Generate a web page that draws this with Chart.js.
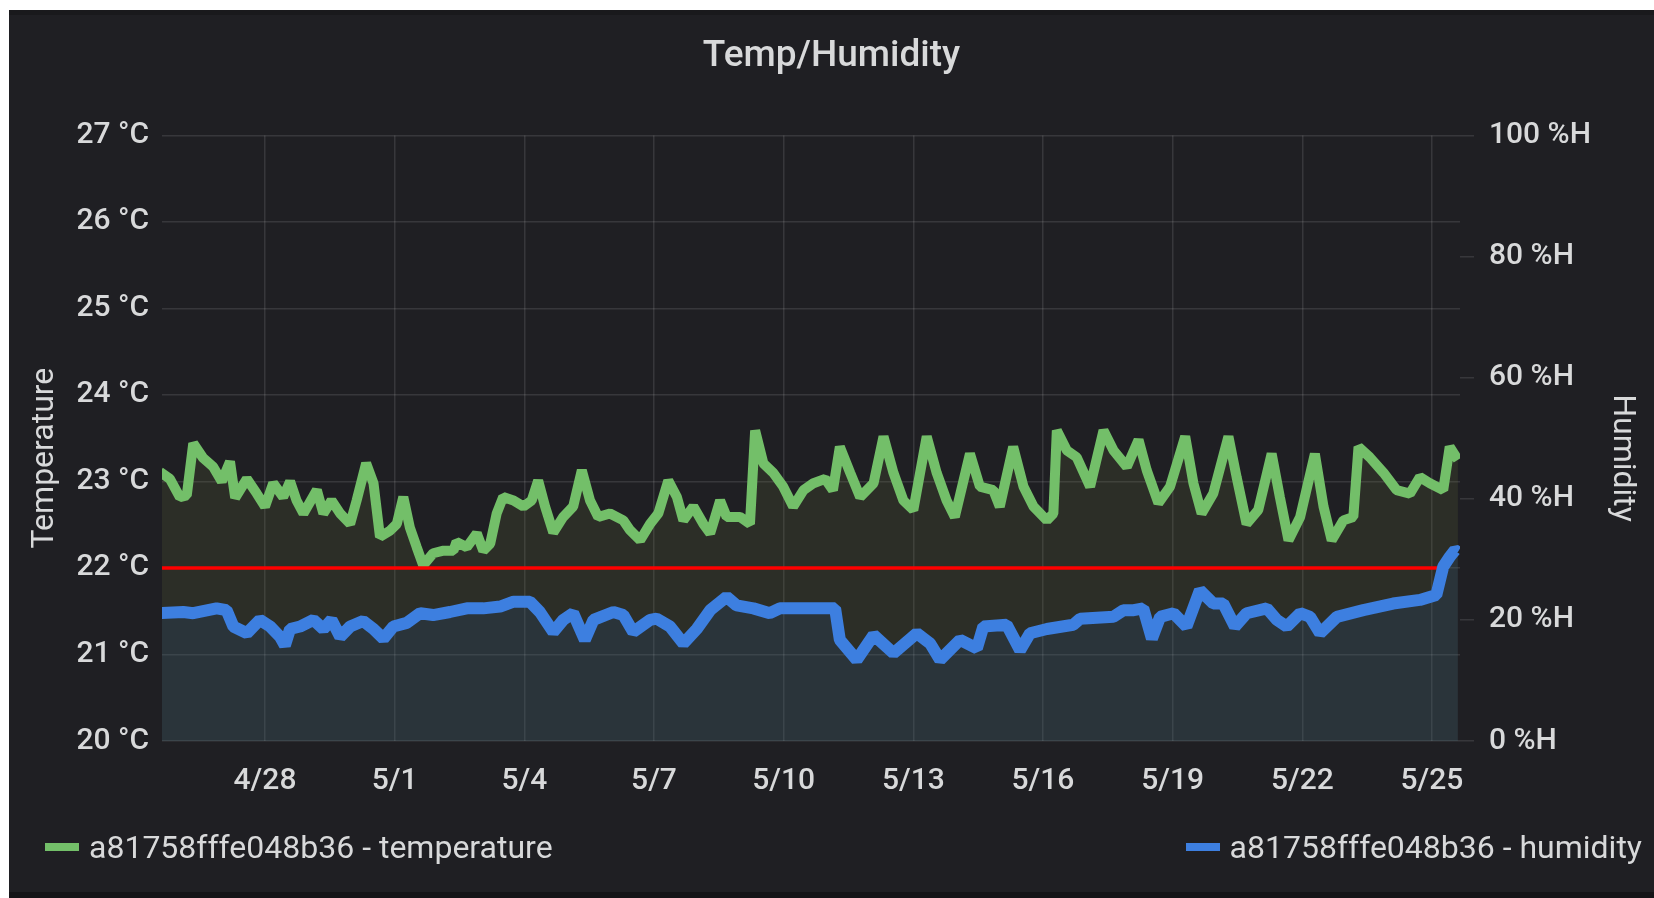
<!DOCTYPE html>
<html>
<head>
<meta charset="utf-8">
<script src="https://cdn.jsdelivr.net/npm/chart.js@4.4.0/dist/chart.umd.min.js"></script>
<style>
  body { margin: 0; background: #fff; font-family: Roboto, sans-serif; }
  #panel { position: absolute; left: 9px; top: 10px; width: 1645px; height: 888px; box-sizing: border-box;
           background: #1f1f23; border-top: 5px solid #19191c; border-bottom: 6px solid #141417; }
  #wrap { position: relative; width: 1645px; height: 877px; }
  #legend { position: absolute; left: 36px; right: 12px; top: 812px; height: 40px; display: flex;
            justify-content: space-between; align-items: center; color: #d8d9da; font-size: 32px; }
  .item { display: flex; align-items: center; white-space: nowrap; }
  .swatch { width: 34px; height: 8px; margin-right: 10px; }
</style>
</head>
<body>
<div id="panel">
  <div id="wrap"><canvas id="c"></canvas></div>
  <div id="legend"></div>
</div>
<script>
// x values are days counted from 4/28 00:00
const tickDays = [0, 3, 6, 9, 12, 15, 18, 21, 24, 27];
const tickLabels = ['4/28', '5/1', '5/4', '5/7', '5/10', '5/13', '5/16', '5/19', '5/22', '5/25'];

const tempDays = [-2.43, -2.20, -1.97, -1.81, -1.66, -1.43, -1.20, -1.00, -0.81, -0.69, -0.42, -0.19,
  0.00, 0.19, 0.42, 0.58, 0.73, 0.89, 1.20, 1.35, 1.54, 1.74, 1.97, 2.12, 2.34, 2.51, 2.66, 2.89,
  3.05, 3.20, 3.35, 3.51, 3.66, 3.89, 4.13, 4.36, 4.43, 4.67, 4.90, 5.05, 5.21, 5.36, 5.51, 5.75,
  5.98, 6.17, 6.32, 6.48, 6.67, 6.90, 7.13, 7.33, 7.52, 7.71, 7.98, 8.29, 8.44, 8.68, 8.91, 9.10,
  9.33, 9.53, 9.68, 9.91, 10.14, 10.30, 10.53, 10.68, 10.99, 11.22, 11.34, 11.53, 11.76, 11.99,
  12.22, 12.46, 12.69, 12.96, 13.14, 13.30, 13.54, 13.77, 14.08, 14.31, 14.54, 14.77, 15.00, 15.31,
  15.54, 15.77, 15.96, 16.31, 16.54, 16.85, 17.00, 17.31, 17.55, 17.78, 18.09, 18.24, 18.32, 18.55,
  18.78, 19.09, 19.40, 19.63, 19.94, 20.21, 20.40, 20.67, 20.94, 21.29, 21.48, 21.67, 21.94, 22.29,
  22.48, 22.71, 22.98, 23.29, 23.48, 23.68, 23.95, 24.29, 24.49, 24.68, 24.95, 25.18, 25.30, 25.56,
  25.88, 26.18, 26.49, 26.72, 26.95, 27.26, 27.41, 27.60];
const tempValues = [23.11, 23.03, 22.82, 22.84, 23.44, 23.27, 23.17, 23.00, 23.23, 22.81, 23.03, 22.86,
  22.71, 22.98, 22.82, 23.00, 22.78, 22.63, 22.90, 22.63, 22.78, 22.63, 22.51, 22.78, 23.21, 22.98, 22.36, 22.43,
  22.51, 22.82, 22.47, 22.24, 22.03, 22.17, 22.20, 22.20, 22.30, 22.24, 22.40, 22.20, 22.28, 22.63, 22.82, 22.78,
  22.71, 22.78, 23.01, 22.71, 22.41, 22.59, 22.71, 23.13, 22.78, 22.59, 22.63, 22.55, 22.44, 22.32, 22.51, 22.63,
  23.01, 22.82, 22.55, 22.71, 22.51, 22.40, 22.78, 22.59, 22.59, 22.51, 23.59, 23.21, 23.10, 22.94,
  22.71, 22.90, 22.98, 23.03, 22.90, 23.40, 23.10, 22.82, 22.98, 23.52, 23.10, 22.78, 22.67, 23.52,
  23.10, 22.78, 22.59, 23.32, 22.94, 22.90, 22.71, 23.40, 22.94, 22.71, 22.55, 22.63, 23.59, 23.36,
  23.28, 22.94, 23.59, 23.36, 23.17, 23.48, 23.13, 22.75, 22.94, 23.52, 22.98, 22.63, 22.86, 23.52,
  23.05, 22.51, 22.67, 23.32, 22.82, 22.32, 22.59, 23.32, 22.71, 22.32, 22.55, 22.59, 23.40, 23.28,
  23.10, 22.90, 22.86, 23.05, 22.98, 22.90, 23.40, 23.25];

const humDays = [-2.43, -1.89, -1.66, -1.12, -0.89, -0.73, -0.42, -0.12, 0.12, 0.35, 0.46, 0.58, 0.81,
  1.12, 1.35, 1.54, 1.74, 1.97, 2.27, 2.51, 2.74, 2.97, 3.28, 3.59, 3.89, 4.28, 4.67, 5.05, 5.44, 5.75,
  6.13, 6.36, 6.67, 6.90, 7.13, 7.40, 7.60, 8.06, 8.29, 8.52, 8.91, 9.06, 9.37, 9.68, 9.99, 10.30, 10.68,
  10.91, 11.30, 11.68, 11.91, 12.53, 13.19, 13.30, 13.69, 14.08, 14.54, 15.08, 15.39, 15.62, 16.08, 16.47,
  16.62, 17.16, 17.47, 17.70, 18.09, 18.70, 18.86, 19.63, 19.86, 20.10, 20.32, 20.52, 20.71, 21.02, 21.32,
  21.63, 21.94, 22.17, 22.44, 22.71, 23.18, 23.41, 23.64, 23.95, 24.18, 24.41, 24.80, 25.41, 26.10, 26.72,
  27.10, 27.26, 27.41, 27.53, 27.60];
const humValues = [21.1, 21.3, 21.1, 21.9, 21.6, 18.9, 17.8, 20.0, 18.9, 17.2, 15.8, 18.5, 18.9,
  20.0, 18.5, 20.0, 17.2, 18.9, 19.8, 18.5, 16.9, 18.9, 19.5, 21.1, 20.8, 21.3, 21.9, 21.9, 22.2, 23.0,
  23.0, 21.3, 18.0, 20.0, 21.1, 16.7, 20.0, 21.3, 20.8, 18.0, 20.0, 20.2, 18.9, 16.1, 18.5, 21.6, 23.8,
  22.4, 21.9, 21.1, 21.9, 21.9, 21.9, 16.7, 13.4, 17.5, 14.5, 17.8, 16.1, 13.4, 16.7, 15.3,
  18.9, 19.2, 15.0, 17.8, 18.5, 19.2, 20.2, 20.5, 21.6, 21.6, 21.9, 16.9, 20.5, 21.1, 18.9,
  24.9, 22.7, 22.7, 18.9, 21.1, 21.9, 20.0, 18.9, 21.1, 20.5, 17.8, 20.5, 21.6, 22.7, 23.3,
  24.1, 28.8, 30.4, 31.5, 31.2];

const limitDays = [-2.383, 27.33];
const limitValues = [22, 22];

const pts = (xs, ys) => xs.map((x, i) => ({x: x, y: ys[i]}));

Chart.defaults.font.family = 'Roboto, sans-serif';
Chart.defaults.color = '#d8d9da';
const GRID = 'rgba(255,255,255,0.11)';
const TICK_FONT = {size: 30, weight: 500};

const chart = new Chart(document.getElementById('c'), {
  type: 'line',
  data: {
    datasets: [
      {label: 'a81758fffe048b36 - temperature', inLegend: true, data: pts(tempDays, tempValues),
       yAxisID: 'y', borderColor: '#73bf69', backgroundColor: 'rgba(124,131,68,0.15)',
       borderWidth: 10, fill: 'start', order: 3},
      {label: 'a81758fffe048b36 - humidity', inLegend: true, data: pts(humDays, humValues),
       yAxisID: 'y2', borderColor: '#3d7fe0', backgroundColor: 'rgba(32,86,167,0.15)',
       borderWidth: 12, fill: 'start', order: 1},
      {label: 'limit', data: pts(limitDays, limitValues), yAxisID: 'y',
       borderColor: '#ff0000', borderWidth: 3.5, fill: false, order: 2}
    ]
  },
  options: {
    animation: false,
    responsive: true,
    maintainAspectRatio: false,
    layout: {padding: 0},
    elements: {point: {radius: 0}, line: {tension: 0, borderJoinStyle: 'bevel'}},
    plugins: {
      legend: {display: false},
      tooltip: {enabled: false},
      title: {display: true, text: 'Temp/Humidity', color: '#d8d9da',
              font: {size: 37, weight: 500}, padding: {top: 20, bottom: 56}}
    },
    scales: {
      x: {
        type: 'linear', min: -2.383, max: 27.648,
        afterBuildTicks: s => { s.ticks = tickDays.map(v => ({value: v})); },
        afterFit: s => { s.height = 151; },
        ticks: {callback: v => tickLabels[tickDays.indexOf(v)], font: TICK_FONT, padding: 22,
                maxRotation: 0, autoSkip: false},
        grid: {color: GRID, lineWidth: 1.5, drawTicks: false},
        border: {display: false}
      },
      y: {
        position: 'left', min: 20, max: 27,
        afterFit: s => { s.width = 153; },
        ticks: {stepSize: 1, callback: v => v + ' °C', font: TICK_FONT, padding: 13},
        grid: {color: GRID, lineWidth: 1.5, drawTicks: false},
        border: {display: false},
        // trailing spaces push the rotated label a little below the axis centre, as in the panel
        title: {display: true, text: 'Temperature     ', font: {size: 32}, padding: {top: 17, bottom: 0}}
      },
      y2: {
        position: 'right', min: 0, max: 100,
        afterFit: s => { s.width = 194; },
        ticks: {stepSize: 20, callback: v => v + ' %H', font: TICK_FONT, padding: 15},
        grid: {color: GRID, lineWidth: 1.5, drawOnChartArea: false, tickLength: 14},
        border: {display: false},
        title: {display: true, text: '     Humidity', font: {size: 32}, padding: {top: 13, bottom: 0}}
      }
    }
  }
});

const legend = document.getElementById('legend');
chart.data.datasets.filter(ds => ds.inLegend).forEach(ds => {
  const item = document.createElement('div');
  item.className = 'item';
  const sw = document.createElement('span');
  sw.className = 'swatch';
  sw.style.background = ds.borderColor;
  const txt = document.createElement('span');
  txt.textContent = ds.label;
  item.appendChild(sw);
  item.appendChild(txt);
  legend.appendChild(item);
});
</script>
</body>
</html>
